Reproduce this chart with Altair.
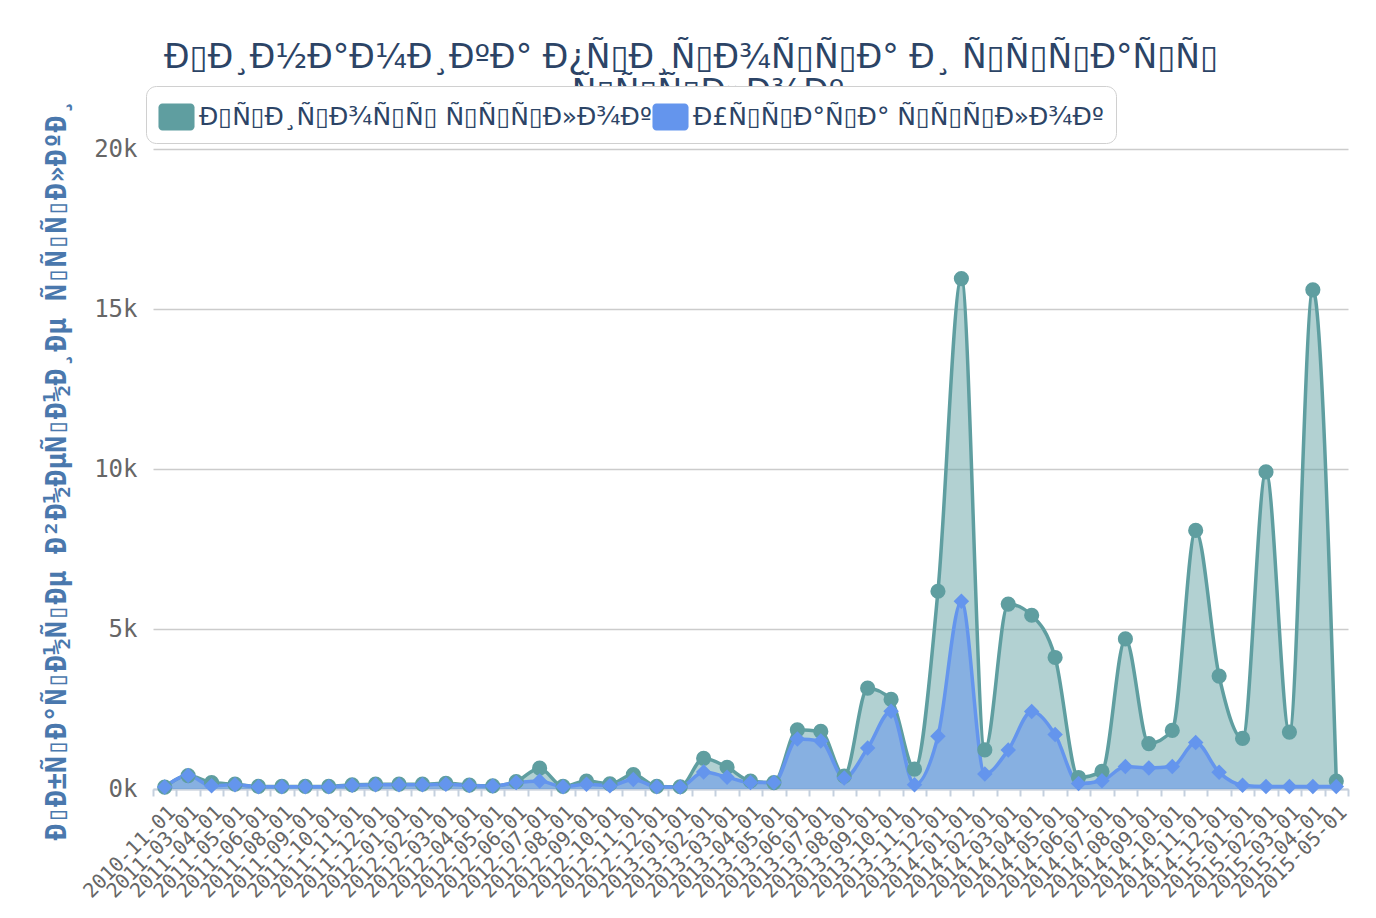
import altair as alt
import pandas as pd

months = ["2010-11-01",
          "2011-03-01", "2011-04-01", "2011-05-01", "2011-06-01", "2011-08-01",
          "2011-09-01", "2011-10-01", "2011-11-01", "2011-12-01",
          "2012-01-01", "2012-02-01", "2012-03-01", "2012-04-01", "2012-05-01", "2012-06-01",
          "2012-07-01", "2012-08-01", "2012-09-01", "2012-10-01", "2012-11-01", "2012-12-01",
          "2013-01-01", "2013-02-01", "2013-03-01", "2013-04-01", "2013-05-01", "2013-06-01",
          "2013-07-01", "2013-08-01", "2013-09-01", "2013-10-01", "2013-11-01", "2013-12-01",
          "2014-01-01", "2014-02-01", "2014-03-01", "2014-04-01", "2014-05-01", "2014-06-01",
          "2014-07-01", "2014-08-01", "2014-09-01", "2014-10-01", "2014-11-01", "2014-12-01",
          "2015-01-01", "2015-02-01", "2015-03-01", "2015-04-01", "2015-05-01"]

gain = [60, 420, 200, 150, 80, 80, 80, 80, 130, 150,
        150, 150, 180, 120, 100, 230, 650, 80, 250, 160, 450, 80,
        70, 960, 680, 250, 200, 1850, 1800, 400, 3150, 2800, 620, 6180,
        15950, 1220, 5780, 5430, 4110, 360, 550, 4690, 1420, 1830, 8080, 3530,
        1580, 9910, 1780, 15600, 250]

loss = [60, 420, 100, 130, 70, 70, 70, 70, 120, 130,
        130, 130, 150, 110, 90, 200, 250, 70, 150, 100, 300, 70,
        60, 530, 370, 200, 200, 1560, 1500, 340, 1280, 2430, 130, 1650,
        5870, 470, 1220, 2420, 1700, 170, 260, 700, 660, 700, 1450, 520,
        120, 80, 80, 80, 80]


def moj(s):
    # the reference shows UTF-8 text decoded as Latin-1, with the
    # unprintable C1 bytes drawn as empty boxes
    t = s.encode("utf-8").decode("latin-1")
    return "".join("\u25af" if 0x80 <= ord(ch) <= 0x9f else ch for ch in t)


title_line1 = moj("Динамика прироста и утраты")
title_line2 = moj("ссылок")
s_gain = moj("Прирост ссылок")
s_loss = moj("Утрата ссылок")
y_title = moj("Обратные внешние ссылки")

teal = "#5f9ea0"
blue = "#6495ed"
title_color = "#2c4466"

df = pd.DataFrame({
    "month": months * 2,
    "value": gain + loss,
    "series": [s_gain] * len(months) + [s_loss] * len(months),
})

rounded_rect = ("M-0.78,-0.75 H0.78 A0.22,0.22 0 0 1 1,-0.53 V0.53 "
                "A0.22,0.22 0 0 1 0.78,0.75 H-0.78 A0.22,0.22 0 0 1 -1,0.53 "
                "V-0.53 A0.22,0.22 0 0 1 -0.78,-0.75 Z")

color_scale = alt.Scale(domain=[s_gain, s_loss], range=[teal, blue])

legend = alt.Legend(
    title=None, orient="none", legendX=-7, legendY=-63, direction="horizontal",
    symbolType=rounded_rect, symbolSize=1300, symbolOpacity=1, symbolStrokeWidth=0,
    labelFont="DejaVu Sans", labelFontSize=25, labelColor=title_color,
    labelLimit=700, columnPadding=0, symbolOffset=0,
    padding=12, fillColor="white", strokeColor="#d0d0d0", cornerRadius=10,
)

x_enc = alt.X("month:O", sort=months, title=None,
              scale=alt.Scale(type="band", paddingInner=0, paddingOuter=0),
              axis=alt.Axis(labelAngle=-45, labelFont="DejaVu Sans Mono", labelFontSize=20,
                            labelColor="#666666", tickColor="#c5d0de", domainColor="#c5d0de",
                            tickSize=7, tickWidth=2, domainWidth=2, tickBand="extent",
                            labelPadding=6, grid=False))
y_enc = alt.Y("value:Q", title=y_title,
              scale=alt.Scale(domain=[0, 20000], nice=False),
              axis=alt.Axis(values=[0, 5000, 10000, 15000, 20000],
                            labelExpr="datum.value / 1000 + 'k'",
                            labelFont="DejaVu Sans Mono", labelFontSize=24, labelColor="#666666",
                            labelPadding=16, domain=False, ticks=False,
                            gridColor="#cccccc", gridWidth=1.5,
                            titleFont="DejaVu Sans Mono", titleFontSize=28, titleFontWeight="bold",
                            titleColor="#4a78ad", titlePadding=22))

base = alt.Chart(df)


def layer_for(series, mark, with_legend):
    c = alt.Color("series:N", scale=color_scale, legend=legend if with_legend else None)
    return mark.encode(x=x_enc, y=y_enc, color=c).transform_filter(
        alt.datum.series == series)


# wrapped second line of the title, partly hidden behind the legend box
title_wrap = alt.Chart(pd.DataFrame({"t": [title_line2]})).mark_text(
    font="DejaVu Sans", fontSize=33, color=title_color, align="center", baseline="alphabetic"
).encode(text="t:N", x=alt.value(555), y=alt.value(-46))

area_g = layer_for(s_gain, base.mark_area(interpolate="monotone", fillOpacity=0.48), True)
area_l = layer_for(s_loss, base.mark_area(interpolate="monotone", fillOpacity=0.55), True)
line_g = layer_for(s_gain, base.mark_line(interpolate="monotone", strokeWidth=3.5), False)
line_l = layer_for(s_loss, base.mark_line(interpolate="monotone", strokeWidth=3.5), False)
pt_g = layer_for(s_gain, base.mark_point(shape="circle", filled=True, size=230, opacity=1), False)
pt_l = layer_for(s_loss, base.mark_point(shape="diamond", filled=True, size=240, opacity=1), False)

chart = alt.layer(title_wrap, area_g, area_l, line_g, line_l, pt_g, pt_l).properties(
    width=1195, height=640,
    padding={"left": 35, "top": 34, "right": 5, "bottom": 5},
    title=alt.TitleParams(text=title_line1, font="DejaVu Sans", fontSize=33,
                          fontWeight="normal", color=title_color, anchor="middle",
                          frame="bounds", offset=2, dx=-6),
).configure_view(stroke=None)

chart.save("out.html", embed_options={"renderer": "svg", "actions": False})
